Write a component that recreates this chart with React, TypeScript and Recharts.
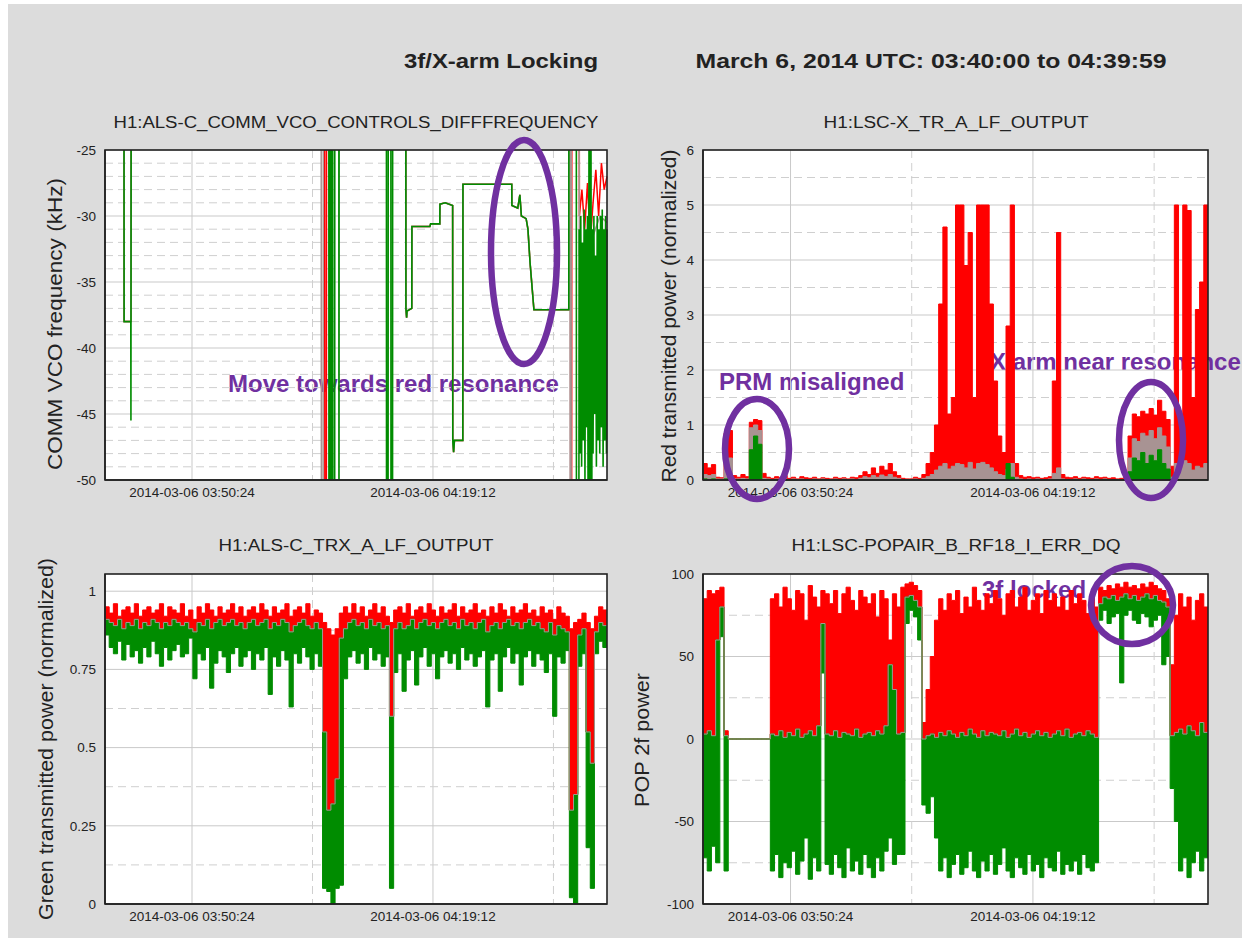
import React from "react";
import { ComposedChart, Line, Area, XAxis, YAxis, CartesianGrid } from "recharts";

const FONT = '"Liberation Sans", Arial, Helvetica, sans-serif';
const RED = "#ff0000";
const GREEN = "#008c00";
const GRAY = "#a89393";
const PURPLE = "#7030a0";
const INK = "#222222";

// x axis is seconds after 2014-03-06 03:40:00 UTC
const X_TICKS = [624, 2352];
const X_TICK_LABELS = ["2014-03-06 03:50:24", "2014-03-06 04:19:12"];
const X_MINOR = [1488, 3216];

// 30 s sample grid for the trend panels
const GRID_T = Array.from({ length: 120 }, (_, i) => i * 30);

type Pt = [number, number];

// ---- H1:ALS-C_COMM_VCO_CONTROLS_DIFFFREQUENCY (kHz), -15 / -60 = off scale
const VCO_LOCK: Pt[] = [
  [2157, -15], [2158, -37], [2163, -37.7], [2166, -37.2], [2200, -37], [2201, -30.8],
  [2330, -30.8], [2335, -30.6], [2401, -30.6], [2402, -29.1], [2440, -29], [2493, -29.2],
  [2494, -47], [2500, -47.9], [2506, -47], [2566, -47], [2567, -27.6], [2917, -27.6],
  [2918, -29.2], [2960, -29.4], [2975, -28.4], [2986, -30], [3020, -30.2], [3033, -31],
  [3048, -33.5], [3076, -37.1], [3326, -37.1],
];
const VCO_MIN_HEAD: Pt[] = [
  [0, -15], [136, -15], [137, -38], [185, -38], [186, -45.5], [188, -15],
  [1605, -15], [1606, -60], [1611, -60], [1612, -15], [1620, -15], [1621, -60], [1627, -60], [1628, -15],
  [1633, -15], [1634, -60], [1647, -60], [1648, -15], [1677, -15], [1678, -60], [1679, -15],
  [2018, -15], [2019, -60], [2030, -60], [2031, -15], [2050, -15], [2051, -60], [2062, -60], [2063, -15],
];
const VCO_MIN_TAIL: Pt[] = [
  [3327, -15], [3380, -15], [3381, -60], [3398, -60],
  [3400, -31], [3406, -48], [3412, -30], [3418, -49], [3424, -32], [3430, -47], [3436, -29.5],
  [3442, -50], [3448, -31], [3454, -46], [3460, -30], [3466, -60], [3472, -15], [3478, -60],
  [3484, -15], [3490, -60], [3494, -31], [3500, -48], [3506, -30], [3512, -45], [3518, -33],
  [3524, -49], [3530, -30], [3536, -47], [3542, -31], [3548, -48], [3554, -30], [3560, -46],
  [3566, -29.5], [3572, -49], [3578, -31], [3584, -47], [3590, -30], [3596, -48], [3600, -31],
];
const VCO_MAX_HEAD: Pt[] = [
  [0, -15], [136, -15], [137, -38], [185, -38], [186, -15],
  [1575, -15], [1577, -60], [1587, -60], [1589, -15],
];
const VCO_MAX_TAIL: Pt[] = [
  [3327, -15], [3338, -15], [3340, -60], [3346, -60], [3348, -15], [3400, -15], [3402, -30],
  [3420, -28], [3440, -31], [3460, -27.5], [3480, -32], [3500, -29], [3520, -26.5], [3540, -30],
  [3560, -26], [3580, -28], [3600, -27],
];
const VCO_MEAN_HEAD: Pt[] = [
  [0, -15], [136, -15], [137, -38], [185, -38], [186, -15],
  [1550, -15], [1552, -60], [1564, -60], [1566, -15],
];
const VCO_MEAN_TAIL: Pt[] = [
  [3327, -15], [3334, -15], [3336, -60], [3342, -60], [3344, -15], [3400, -15], [3402, -33],
  [3450, -32], [3500, -31.5], [3550, -30], [3600, -30.5],
];

// ---- H1:LSC-X_TR_A_LF_OUTPUT (max / mean / min, filled from 0)
const XTR_MAX = [
  0.30, 0.22, 0.28, 0.05, 0.04, 0.85, 0.90, 0.08, 0.05, 0.10,
  0.06, 1.05, 1.10, 1.08, 0.12, 0.05, 0.03, 0.06, 0.04, 0.08,
  0.03, 0.05, 0.02, 0.06, 0.04, 0.03, 0.05, 0.02, 0.04, 0.03,
  0.02, 0.05, 0.03, 0.04, 0.02, 0.05, 0.04, 0.08, 0.15, 0.10,
  0.22, 0.12, 0.25, 0.18, 0.30, 0.15, 0.08, 0.03, 0.02, 0.02,
  0.05, 0.03, 0.10, 0.30, 0.50, 1.00, 3.20, 4.60, 1.20, 1.50,
  5.00, 5.00, 3.90, 4.50, 1.50, 5.00, 5.00, 5.00, 3.20, 1.80,
  0.80, 0.50, 2.80, 5.00, 0.30, 0.08, 0.05, 0.06, 0.04, 0.05,
  0.03, 0.04, 0.06, 1.80, 4.50, 0.10, 0.05, 0.04, 0.06, 0.03,
  0.05, 0.04, 0.03, 0.06, 0.04, 0.05, 0.03, 0.04, 0.02, 0.03,
  0.05, 0.80, 1.20, 1.15, 1.25, 1.20, 1.30, 1.18, 1.45, 1.25,
  1.10, 0.25, 5.00, 1.20, 5.00, 4.90, 1.50, 3.10, 3.60, 5.00,
];
const XTR_MEAN = [
  0.10, 0.08, 0.10, 0.02, 0.02, 0.30, 0.40, 0.02, 0.02, 0.03,
  0.02, 0.95, 1.00, 0.90, 0.03, 0.02, 0.01, 0.02, 0.01, 0.02,
  0.01, 0.02, 0.01, 0.02, 0.01, 0.01, 0.02, 0.01, 0.02, 0.01,
  0.01, 0.02, 0.01, 0.02, 0.01, 0.02, 0.01, 0.03, 0.06, 0.04,
  0.08, 0.05, 0.09, 0.06, 0.10, 0.05, 0.03, 0.01, 0.01, 0.01,
  0.02, 0.01, 0.03, 0.06, 0.10, 0.18, 0.25, 0.30, 0.20, 0.25,
  0.30, 0.28, 0.22, 0.32, 0.20, 0.30, 0.32, 0.28, 0.22, 0.15,
  0.10, 0.08, 0.20, 0.30, 0.05, 0.02, 0.01, 0.02, 0.01, 0.02,
  0.01, 0.01, 0.02, 0.12, 0.22, 0.02, 0.01, 0.01, 0.02, 0.01,
  0.02, 0.01, 0.01, 0.02, 0.01, 0.02, 0.01, 0.01, 0.01, 0.01,
  0.02, 0.40, 0.75, 0.70, 0.85, 0.80, 0.90, 0.75, 0.95, 0.80,
  0.60, 0.05, 0.30, 0.22, 0.35, 0.30, 0.18, 0.25, 0.22, 0.30,
];
const XTR_MIN = [
  0.02, 0.01, 0.02, 0, 0, 0.02, 0.05, 0, 0, 0,
  0, 0.55, 0.80, 0.65, 0, 0, 0, 0, 0, 0,
  0, 0, 0, 0, 0, 0, 0, 0, 0, 0,
  0, 0, 0, 0, 0, 0, 0, 0, 0, 0,
  0, 0, 0, 0, 0, 0, 0, 0, 0, 0,
  0, 0, 0, 0, 0, 0, 0, 0, 0, 0,
  0, 0, 0, 0, 0, 0, 0, 0, 0, 0,
  0, 0, 0.30, 0.05, 0, 0, 0, 0, 0, 0,
  0, 0, 0, 0, 0, 0, 0, 0, 0, 0,
  0, 0, 0, 0, 0, 0, 0, 0, 0, 0,
  0, 0.15, 0.40, 0.35, 0.50, 0.30, 0.45, 0.35, 0.55, 0.30,
  0.20, 0, 0, 0, 0, 0, 0, 0, 0, 0,
];

// ---- H1:ALS-C_TRX_A_LF_OUTPUT (normalized)
const TRX_MAX = [
  0.95, 0.93, 0.96, 0.92, 0.94, 0.95, 0.93, 0.96, 0.92, 0.94,
  0.95, 0.93, 0.94, 0.96, 0.92, 0.95, 0.94, 0.93, 0.96, 0.92,
  0.94, 0.91, 0.95, 0.93, 0.96, 0.94, 0.92, 0.95, 0.93, 0.94,
  0.96, 0.93, 0.95, 0.92, 0.94, 0.95, 0.93, 0.96, 0.94, 0.92,
  0.95, 0.93, 0.94, 0.96, 0.92, 0.94, 0.95, 0.93, 0.96, 0.92,
  0.94, 0.93, 0.90, 0.88, 0.86, 0.88, 0.93, 0.95, 0.93, 0.96,
  0.93, 0.95, 0.92, 0.94, 0.96, 0.93, 0.95, 0.92, 0.90, 0.94,
  0.95, 0.93, 0.96, 0.92, 0.94, 0.95, 0.93, 0.96, 0.94, 0.92,
  0.95, 0.93, 0.94, 0.96, 0.92, 0.95, 0.93, 0.94, 0.96, 0.93,
  0.94, 0.92, 0.95, 0.93, 0.96, 0.94, 0.92, 0.95, 0.93, 0.94,
  0.96, 0.93, 0.94, 0.92, 0.95, 0.93, 0.94, 0.91, 0.95, 0.93,
  0.92, 0.88, 0.90, 0.91, 0.93, 0.90, 0.88, 0.92, 0.95, 0.94,
];
const TRX_MEAN = [
  0.91, 0.90, 0.89, 0.91, 0.88, 0.90, 0.89, 0.91, 0.88, 0.90,
  0.89, 0.91, 0.90, 0.88, 0.90, 0.89, 0.91, 0.90, 0.89, 0.90,
  0.88, 0.87, 0.90, 0.89, 0.91, 0.88, 0.90, 0.91, 0.89, 0.90,
  0.91, 0.89, 0.90, 0.88, 0.90, 0.91, 0.89, 0.90, 0.91, 0.88,
  0.90, 0.89, 0.91, 0.90, 0.87, 0.89, 0.90, 0.91, 0.89, 0.88,
  0.90, 0.88, 0.55, 0.30, 0.32, 0.40, 0.85, 0.88, 0.90, 0.91,
  0.89, 0.90, 0.88, 0.91, 0.89, 0.90, 0.88, 0.89, 0.60, 0.88,
  0.90, 0.88, 0.89, 0.91, 0.88, 0.90, 0.91, 0.89, 0.90, 0.88,
  0.90, 0.91, 0.89, 0.90, 0.88, 0.91, 0.89, 0.90, 0.88, 0.90,
  0.91, 0.87, 0.89, 0.90, 0.88, 0.90, 0.91, 0.89, 0.90, 0.88,
  0.90, 0.91, 0.89, 0.90, 0.88, 0.87, 0.90, 0.86, 0.89, 0.88,
  0.87, 0.30, 0.35, 0.86, 0.88, 0.55, 0.45, 0.87, 0.90, 0.89,
];
const TRX_MIN = [
  0.86, 0.82, 0.80, 0.84, 0.78, 0.83, 0.79, 0.81, 0.77, 0.82,
  0.79, 0.84, 0.80, 0.76, 0.82, 0.78, 0.81, 0.83, 0.79, 0.80,
  0.85, 0.72, 0.80, 0.78, 0.82, 0.69, 0.77, 0.81, 0.79, 0.74,
  0.80, 0.82, 0.76, 0.79, 0.81, 0.75, 0.80, 0.78, 0.82, 0.67,
  0.79, 0.76, 0.81, 0.78, 0.63, 0.80, 0.77, 0.82, 0.79, 0.75,
  0.80, 0.76, 0.05, 0.04, 0.00, 0.05, 0.06, 0.72, 0.79, 0.81,
  0.77, 0.80, 0.75, 0.82, 0.78, 0.80, 0.76, 0.79, 0.05, 0.74,
  0.80, 0.68, 0.78, 0.81, 0.70, 0.79, 0.82, 0.76, 0.80, 0.72,
  0.79, 0.81, 0.77, 0.80, 0.75, 0.82, 0.78, 0.80, 0.76, 0.79,
  0.81, 0.63, 0.78, 0.80, 0.68, 0.79, 0.82, 0.77, 0.80, 0.70,
  0.79, 0.81, 0.76, 0.80, 0.78, 0.74, 0.80, 0.60, 0.79, 0.77,
  0.81, 0.02, 0.00, 0.76, 0.80, 0.18, 0.05, 0.80, 0.84, 0.82,
];

// ---- H1:LSC-POPAIR_B_RF18_I_ERR_DQ
const POP_MAX = [
  85, 90, 88, 90, 92, 5, 0, 0, 0, 0,
  0, 0, 0, 0, 0, 0, 85, 88, 80, 92,
  85, 78, 90, 88, 72, 93, 86, 80, 90, 88,
  82, 90, 76, 88, 92, 84, 78, 90, 86, 82,
  88, 74, 90, 85, 60, 88, 80, 92, 94, 95,
  93, 90, 10, 30, 50, 72, 85, 78, 88, 84,
  90, 76, 86, 80, 92, 84, 78, 88, 82, 90,
  85, 75, 88, 90, 80, 86, 92, 78, 84, 88,
  76, 90, 84, 88, 80, 86, 78, 90, 82, 88,
  84, 76, 88, 80, 92, 90, 93, 91, 94, 92,
  95, 92, 93, 91, 94, 92, 95, 93, 91, 90,
  85, 45, 75, 88, 80, 86, 72, 84, 88, 80,
];
const POP_MEAN = [
  3, 5, 2, 60, 80, 2, 0, 0, 0, 0,
  0, 0, 0, 0, 0, 0, 3, 2, 5, 1,
  4, 2, 6, 1, 3, 5, 2, 8, 70, 3,
  2, 5, 1, 4, 3, 2, 6, 1, 3, 4,
  2, 5, 3, 8, 45, 30, 3, 4, 86, 87,
  84, 80, 0, 2, 3, 1, 4, 2, 5, 3,
  1, 4, 2, 6, 3, 1, 5, 2, 4, 3,
  2, 5, 1, 3, 6, 2, 4, 1, 3, 5,
  2, 4, 1, 3, 5, 2, 6, 1, 3, 4,
  2, 5, 3, 1, 82, 86, 85, 87, 84, 86,
  88, 85, 87, 84, 86, 88, 85, 87, 84, 83,
  80, 2, 4, 6, 3, 8, 5, 2, 10, 4,
];
const POP_MIN = [
  -72, -80, -65, -75, 62, -80, 0, 0, 0, 0,
  0, 0, 0, 0, 0, 0, -80, -70, -84, -75,
  -78, -68, -82, -74, -60, -85, -72, -80, 40, -76,
  -82, -70, -78, -84, -66, -80, -74, -82, -70, -78,
  -84, -72, -80, -68, -60, -76, -70, -70, 70, 78,
  74, 60, -40, -45, -35, -60, -80, -72, -84, -76,
  -70, -82, -78, -68, -80, -84, -74, -80, -70, -82,
  -76, -66, -80, -84, -72, -78, -82, -70, -80, -76,
  -84, -72, -78, -80, -68, -82, -76, -80, -74, -82,
  -70, -78, -80, -75, 72, 78, 70, 74, 76, 34,
  75, 78, 72, 70, 76, 74, 68, 72, 75, 45,
  50, -30, -50, -80, -72, -84, -75, -68, -80, -72,
];

const toPts = (pts: Pt[]) => pts.map(([t, v]) => ({ t, v }));
const VCO_MIN = toPts([...VCO_MIN_HEAD, ...VCO_LOCK, ...VCO_MIN_TAIL]);
const VCO_MAX = toPts([...VCO_MAX_HEAD, ...VCO_LOCK, ...VCO_MAX_TAIL]);
const VCO_MEAN = toPts([...VCO_MEAN_HEAD, ...VCO_LOCK, ...VCO_MEAN_TAIL]);

function trend(hi: number[], mid: number[], lo: number[]) {
  const rows: any[] = GRID_T.map((t, i) => ({
    t,
    hi: hi[i],
    mid: mid[i],
    lo: lo[i],
    red: [mid[i], hi[i]],
    green: [lo[i], mid[i]],
  }));
  rows.push({ ...rows[rows.length - 1], t: 3600 });
  return rows;
}
const XTR_DATA = trend(XTR_MAX, XTR_MEAN, XTR_MIN);
const TRX_DATA = trend(TRX_MAX, TRX_MEAN, TRX_MIN);
const POP_DATA = trend(POP_MAX, POP_MEAN, POP_MIN);

const BOX_A = { x: 105, y: 150, w: 502, h: 330 };
const BOX_B = { x: 703, y: 150, w: 505, h: 330 };
const BOX_C = { x: 105, y: 574, w: 502, h: 330 };
const BOX_D = { x: 703, y: 574, w: 505, h: 330 };
const BOXES = [BOX_A, BOX_B, BOX_C, BOX_D];

type PanelProps = {
  box: { x: number; y: number; w: number; h: number };
  domain: [number, number];
  ticks: number[];
  minor: number[];
  data?: any[];
  children: React.ReactNode;
};

function Panel({ box, domain, ticks, minor, data, children }: PanelProps) {
  const tickStyle = { fontSize: 13.5, fill: INK, fontFamily: FONT };
  const frame = { stroke: INK, strokeWidth: 1.5 };
  return (
    <div style={{ position: "absolute", left: box.x - 105, top: box.y - 20 }}>
      <ComposedChart
        width={box.w + 117}
        height={box.h + 60}
        data={data}
        margin={{ top: 20, right: 12, bottom: 0, left: 0 }}>
        <CartesianGrid horizontalValues={ticks} verticalValues={X_TICKS} stroke='#c9c9c9' />
        <CartesianGrid
          horizontalValues={minor}
          verticalValues={X_MINOR}
          stroke='#cfcfcf'
          strokeDasharray='8 5'
        />
        <XAxis
          dataKey='t'
          type='number'
          domain={[0, 3600]}
          ticks={X_TICKS}
          interval={0}
          tickFormatter={(v: number) => X_TICK_LABELS[X_TICKS.indexOf(v)]}
          tick={tickStyle}
          tickLine={false}
          tickSize={0}
          tickMargin={7}
          stroke={INK}
          axisLine={frame}
          height={40}
        />
        <YAxis
          type='number'
          domain={domain}
          allowDataOverflow
          ticks={ticks}
          interval={0}
          width={105}
          tick={tickStyle}
          tickLine={false}
          tickSize={0}
          tickMargin={9}
          stroke={INK}
          axisLine={frame}
        />
        {children}
      </ComposedChart>
    </div>
  );
}

function bandSeries() {
  return [
    <Area key='r' type='stepAfter' dataKey='red' stroke={RED} strokeWidth={1} fill={RED} fillOpacity={1} isAnimationActive={false} activeDot={false} />,
    <Area key='g' type='stepAfter' dataKey='green' stroke={GREEN} strokeWidth={1} fill={GREEN} fillOpacity={1} isAnimationActive={false} activeDot={false} />,
    <Line key='m' type='stepAfter' dataKey='mid' stroke={GRAY} strokeWidth={1} dot={false} isAnimationActive={false} activeDot={false} />,
  ];
}

const TITLE = "3f/X-arm Locking";
const SUBTITLE = "March 6, 2014 UTC: 03:40:00 to 04:39:59";

function YLabel({ x, y, len, text }: { x: number; y: number; len: number; text: string }) {
  return (
    <text
      x={x}
      y={y}
      transform={`rotate(-90 ${x} ${y})`}
      textAnchor='middle'
      dominantBaseline='central'
      fontSize={21}
      fill={INK}
      textLength={len}
      lengthAdjust='spacingAndGlyphs'>
      {text}
    </text>
  );
}

function PanelTitle({ x, y, len, text }: { x: number; y: number; len: number; text: string }) {
  return (
    <text x={x} y={y} textAnchor='middle' fontSize={16} fill={INK} textLength={len} lengthAdjust='spacingAndGlyphs'>
      {text}
    </text>
  );
}

export default function App() {
  return (
    <div
      style={{
        position: "absolute",
        left: 0,
        top: 0,
        width: 1242,
        height: 938,
        background: "#fff",
        overflow: "hidden",
        fontFamily: FONT,
      }}>
      <div style={{ position: "absolute", left: 8, top: 4, right: 0, bottom: 0, background: "#dcdcdc" }} />
      {BOXES.map((b, i) => (
        <div key={i} style={{ position: "absolute", left: b.x, top: b.y, width: b.w, height: b.h, background: "#fff" }} />
      ))}
      <svg width={1242} height={938} style={{ position: "absolute", left: 0, top: 0 }} fontFamily={FONT}>
        <text x={501} y={68} textAnchor='middle' fontWeight='bold' fontSize={21} fill={INK} textLength={194} lengthAdjust='spacingAndGlyphs'>
          {TITLE}
        </text>
        <text x={931} y={68} textAnchor='middle' fontWeight='bold' fontSize={21} fill={INK} textLength={471} lengthAdjust='spacingAndGlyphs'>
          {SUBTITLE}
        </text>
        <PanelTitle x={356} y={128} len={485} text='H1:ALS-C_COMM_VCO_CONTROLS_DIFFFREQUENCY' />
        <PanelTitle x={956} y={128} len={265} text='H1:LSC-X_TR_A_LF_OUTPUT' />
        <PanelTitle x={356} y={551} len={275} text='H1:ALS-C_TRX_A_LF_OUTPUT' />
        <PanelTitle x={956} y={551} len={329} text='H1:LSC-POPAIR_B_RF18_I_ERR_DQ' />
        <YLabel x={54} y={324} len={292} text='COMM VCO frequency (kHz)' />
        <YLabel x={668} y={316} len={333} text='Red transmitted power (normalized)' />
        <YLabel x={45} y={739} len={362} text='Green transmitted power (normalized)' />
        <YLabel x={641} y={740} len={134} text='POP 2f power' />
        <g fill={PURPLE} fontWeight='bold' fontSize={24}>
          <text x={228} y={392}>Move towards red resonance</text>
          <text x={719} y={390}>PRM misaligned</text>
          <text x={990} y={370}>X arm near resonance</text>
          <text x={982} y={598}>3f locked</text>
        </g>
      </svg>

      <Panel box={BOX_A} domain={[-50, -25]} ticks={[-50, -45, -40, -35, -30, -25]}
        minor={[-49, -48, -47, -46, -44, -43, -42, -41, -39, -38, -37, -36, -34, -33, -32, -31, -29, -28, -27, -26]}>
        <Line data={VCO_MAX} dataKey='v' type='linear' stroke={RED} strokeWidth={1.5} dot={false} isAnimationActive={false} activeDot={false} />
        <Line data={VCO_MEAN} dataKey='v' type='linear' stroke={GRAY} strokeWidth={1.5} dot={false} isAnimationActive={false} activeDot={false} />
        <Line data={VCO_MIN} dataKey='v' type='linear' stroke={GREEN} strokeWidth={1.6} dot={false} isAnimationActive={false} activeDot={false} />
      </Panel>

      <Panel box={BOX_B} domain={[0, 6]} ticks={[0, 1, 2, 3, 4, 5, 6]} minor={[0.5, 1.5, 2.5, 3.5, 4.5, 5.5]} data={XTR_DATA}>
        <Area type='stepAfter' dataKey='hi' stroke={RED} strokeWidth={1} fill={RED} fillOpacity={1} isAnimationActive={false} activeDot={false} />
        <Area type='stepAfter' dataKey='mid' stroke={GRAY} strokeWidth={1} fill={GRAY} fillOpacity={1} isAnimationActive={false} activeDot={false} />
        <Area type='stepAfter' dataKey='lo' stroke={GREEN} strokeWidth={1} fill={GREEN} fillOpacity={1} isAnimationActive={false} activeDot={false} />
      </Panel>

      <Panel box={BOX_C} domain={[0, 1.055]} ticks={[0, 0.25, 0.5, 0.75, 1]} minor={[0.125, 0.375, 0.625, 0.875]} data={TRX_DATA}>
        {bandSeries()}
      </Panel>

      <Panel box={BOX_D} domain={[-100, 100]} ticks={[-100, -50, 0, 50, 100]} minor={[-75, -25, 25, 75]} data={POP_DATA}>
        {bandSeries()}
      </Panel>

      <svg width={1242} height={938} style={{ position: "absolute", left: 0, top: 0, pointerEvents: "none" }}>
        {BOXES.map((b, i) => (
          <rect key={i} x={b.x} y={b.y} width={b.w} height={b.h} fill='none' stroke={INK} strokeWidth={1.6} />
        ))}
        <g fill='none' stroke={PURPLE} strokeWidth={6.5}>
          <ellipse cx={524} cy={252} rx={33} ry={112} />
          <ellipse cx={757} cy={449} rx={32} ry={50} />
          <ellipse cx={1151} cy={440} rx={32} ry={58} />
          <ellipse cx={1132} cy={605} rx={41} ry={39} />
        </g>
      </svg>
    </div>
  );
}
